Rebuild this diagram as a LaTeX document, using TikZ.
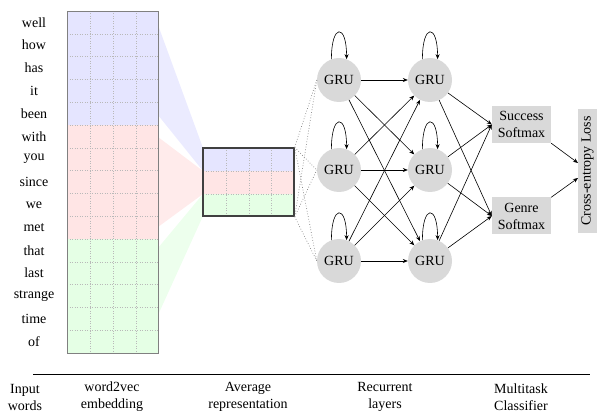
\documentclass[tikz,border=0pt]{standalone}
\usepackage{fontspec}
\setmainfont{Liberation Serif}
\usetikzlibrary{arrows.meta}
\begin{document}
\begin{tikzpicture}[x=1pt,y=-1pt, font=\fontsize{14}{17}\selectfont,
  gru/.style={circle, fill=gray!30, minimum size=44pt, inner sep=0pt},
  smax/.style={fill=gray!30, align=center, inner sep=1pt, minimum width=59pt, minimum height=37pt},
  arr/.style={-{Stealth[length=5pt,width=4pt]}, line width=0.6pt},
  feed/.style={dotted, gray, line width=0.7pt},
  gridl/.style={dotted, gray!55, line width=0.5pt},
  word/.style={inner sep=0pt, anchor=center},
  lab/.style={align=center, inner sep=0pt, font=\fontsize{14}{17}\selectfont}]
\useasboundingbox (0,0) rectangle (598,414);

% fans
\fill[blue!8] (158,25) -- (203,148) -- (203,171) -- (158,115) -- cycle;
\fill[red!8] (158,137) -- (203,171) -- (203,194) -- (158,227) -- cycle;
\fill[green!7] (158,248) -- (203,194) -- (203,216) -- (158,315) -- cycle;

% embedding
\fill[blue!10] (67,11) rectangle (158,125);
\fill[red!10] (67,125) rectangle (158,239);
\fill[green!10] (67,239) rectangle (158,353);
\foreach \i in {1,...,14} \draw[gridl] (67,11+22.8*\i) -- (158,11+22.8*\i);
\foreach \x in {90,113,136} \draw[gridl] (\x,11) -- (\x,353);
\node[draw=gray, line width=0.8pt, inner sep=0pt, minimum width=91pt, minimum height=342pt] (emb) at (112.5,182) {};

% words
\foreach \w [count=\i from 0] in {well,how,has,it,been,with,you,since,we,met,that,last,strange,time,of}
  \node[word] (w\i) at (34,22.4+22.8*\i) {\w};

% average box
\fill[blue!10] (203,148) rectangle (294,171);
\fill[red!10] (203,171) rectangle (294,194);
\fill[green!10] (203,194) rectangle (294,216);
\foreach \y in {171,194} \draw[gridl] (203,\y) -- (294,\y);
\foreach \x in {226,249,271} \draw[gridl] (\x,148) -- (\x,216);
\node[draw=black!75, line width=1.4pt, inner sep=0pt, minimum width=91pt, minimum height=68pt] (avg) at (248.5,182) {};

% GRUs
\node[gru] (a1) at (339,80) {GRU};
\node[gru] (a2) at (339,170) {GRU};
\node[gru] (a3) at (339,261) {GRU};
\node[gru] (b1) at (430,80) {GRU};
\node[gru] (b2) at (430,170) {GRU};
\node[gru] (b3) at (430,261) {GRU};

% feed lines
\foreach \g in {a1,a2,a3} {
  \draw[feed] (avg.north east) -- (\g.west);
  \draw[feed] (avg.south east) -- (\g.west);
}

% self loops
\foreach \g in {a1,a2,a3,b1,b2,b3}
  \draw[arr] (\g.110) .. controls +(0,-36) and +(0,-36) .. (\g.70);

% recurrent connections
\foreach \s in {a1,a2,a3}
  \foreach \t in {b1,b2,b3}
    \draw[arr] (\s) -- (\t);

% softmax
\node[smax] (succ) at (521.5,124.5) {Success\\Softmax};
\node[smax] (genre) at (521.5,216) {Genre\\Softmax};
\node[fill=gray!30, rotate=90, inner sep=2pt, minimum width=124pt, minimum height=19pt] (loss) at (587.5,171) {Cross-entropy Loss};
\coordinate (lossin1) at (578,163);
\coordinate (lossin2) at (578,178);

\foreach \s in {b1,b2,b3} {
  \draw[arr] (\s) -- (succ.west);
  \draw[arr] (\s) -- (genre.west);
}
\draw[arr] (succ.south east) -- (lossin1);
\draw[arr] (genre.north east) -- (lossin2);

% rule and labels
\coordinate (r1) at (33,374);
\coordinate (r2) at (590,374);
\draw[line width=0.8pt] (r1) -- (r2);
\node[lab] (l1) at (25,397) {Input\\words};
\node[lab] (l2) at (112,397) {word2vec\\embedding};
\node[lab] (l3) at (248,397) {Average\\representation};
\node[lab] (l4) at (385,397) {Recurrent\\layers};
\node[lab] (l5) at (521,397) {Multitask\\Classifier};
\end{tikzpicture}
\end{document}
